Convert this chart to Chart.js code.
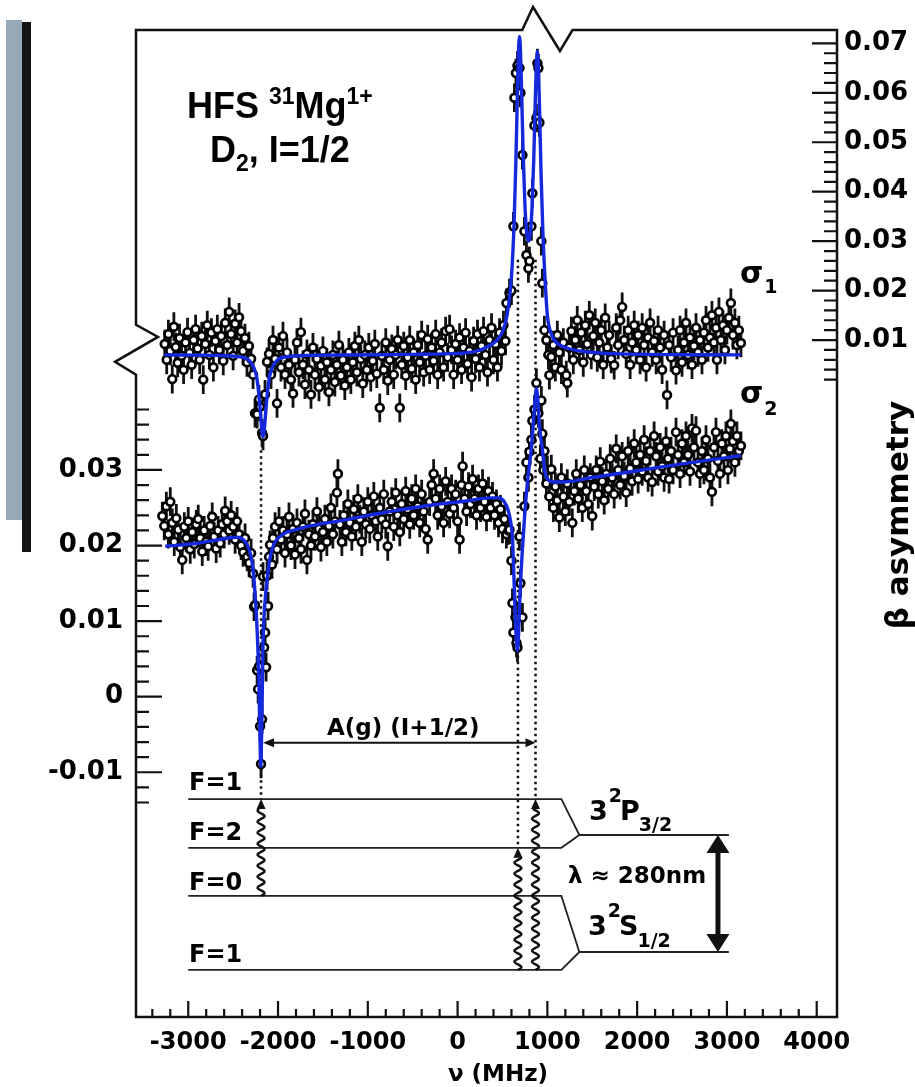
<!DOCTYPE html>
<html>
<head>
<meta charset="utf-8">
<title>HFS 31Mg1+</title>
<script src="https://cdn.jsdelivr.net/npm/chart.js@4.4.1/dist/chart.umd.min.js"></script>
<style>
  html, body { margin: 0; padding: 0; background: #fff; }
  #wrap { width: 915px; height: 1087px; }
</style>
</head>
<body>
<div id="wrap"><canvas id="hfsChart" width="915" height="1087"></canvas></div>
<script>
// sigma_1 scan, read against the right-hand axis
const s1Freq = [
  -3262,-3240,-3221,-3200,-3178,-3160,-3140,-3118,-3097,-3075,
  -3052,-3030,-3008,-2985,-2962,-2940,-2918,-2896,-2873,-2850,
  -2833,-2810,-2788,-2765,-2742,-2720,-2698,-2676,-2654,-2632,
  -2610,-2588,-2566,-2544,-2522,-2500,-2478,-2456,-2434,-2412,
  -2390,-2368,-2346,-2324,-2300,-2278,-2256,-2233,-2212,-2200,
  -2178,-2167,-2145,-2122,-2100,-2078,-2056,-2033,-2011,-1990,
  -1967,-1945,-1922,-1900,-1878,-1856,-1833,-1811,-1789,-1767,
  -1745,-1722,-1700,-1678,-1656,-1633,-1611,-1589,-1567,-1544,
  -1522,-1500,-1478,-1456,-1433,-1411,-1389,-1367,-1344,-1322,
  -1300,-1278,-1256,-1233,-1211,-1189,-1167,-1144,-1122,-1100,
  -1078,-1056,-1033,-1011,-989,-967,-944,-922,-900,-867,
  -844,-822,-800,-778,-756,-733,-711,-689,-667,-644,
  -622,-600,-578,-556,-533,-511,-489,-467,-444,-422,
  -400,-378,-356,-333,-311,-289,-267,-244,-222,-200,
  -178,-156,-133,-111,-89,-67,-44,-22,0,22,
  44,67,89,111,133,156,178,200,222,244,
  267,289,311,333,356,378,400,422,444,467,
  489,511,533,544,578,600,622,633,650,667,
  689,700,722,744,767,789,800,822,833,856,
  878,889,900,911,933,944,967,989,1011,1022,
  1044,1067,1089,1111,1133,1156,1178,1211,1222,1244,
  1267,1289,1311,1333,1356,1378,1400,1422,1444,1467,
  1489,1511,1533,1556,1578,1600,1622,1644,1667,1689,
  1711,1744,1767,1789,1811,1833,1856,1878,1900,1922,
  1944,1967,1989,2011,2033,2056,2078,2100,2122,2144,
  2167,2189,2211,2233,2256,2278,2300,2333,2356,2378,
  2400,2433,2456,2478,2500,2522,2544,2567,2589,2611,
  2633,2656,2678,2700,2722,2744,2767,2789,2811,2833,
  2856,2878,2889,2911,2933,2956,2978,3000,3022,3044,
  3067,3089,3111,3133,3156
];
const s1Asym = [
  0.0092,0.0060,0.0112,0.0078,0.0021,0.0127,0.0086,0.0054,0.0104,0.0068,
  0.0040,0.0095,0.0116,0.0074,0.0050,0.0100,0.0122,0.0083,0.0060,0.0108,
  0.0020,0.0092,0.0130,0.0070,0.0115,0.0045,0.0098,0.0122,0.0080,0.0108,
  0.0058,0.0135,0.0090,0.0157,0.0112,0.0068,0.0133,0.0095,0.0146,0.0118,
  0.0078,0.0104,0.0055,0.0088,0.0062,0.0030,-0.0048,-0.0050,-0.0020,-0.0035,
  -0.0088,-0.0094,-0.0010,0.0056,0.0072,0.0030,0.0100,0.0062,-0.0028,0.0085,
  0.0045,0.0108,0.0030,0.0075,0.0050,0.0020,-0.0008,0.0060,0.0095,0.0035,
  0.0116,0.0050,0.0010,0.0072,0.0040,-0.0010,0.0085,0.0030,0.0062,0.0005,
  0.0048,0.0078,0.0020,0.0055,-0.0005,0.0040,0.0070,0.0015,0.0050,0.0090,
  0.0028,0.0060,0.0008,0.0045,0.0075,0.0020,0.0055,0.0088,0.0035,0.0100,
  0.0062,0.0012,0.0070,0.0040,0.0085,0.0025,0.0058,0.0092,0.0032,-0.0037,
  0.0068,0.0040,0.0095,0.0018,0.0060,0.0082,0.0030,0.0070,0.0100,-0.0037,
  0.0050,0.0088,0.0028,0.0065,0.0100,0.0042,0.0075,0.0020,0.0090,0.0055,
  0.0110,0.0035,0.0068,0.0102,0.0040,0.0085,0.0058,0.0112,0.0030,0.0075,
  0.0095,0.0045,0.0118,0.0065,0.0122,0.0080,0.0030,0.0092,0.0060,0.0105,
  0.0040,0.0085,0.0115,0.0052,0.0078,0.0025,0.0098,0.0062,0.0112,0.0045,
  0.0088,0.0118,0.0070,0.0035,0.0100,0.0125,0.0060,0.0092,0.0045,0.0115,
  0.0078,0.0130,0.0098,0.0175,0.0195,0.0200,0.0330,0.0590,0.0640,0.0655,
  0.0650,0.0600,0.0474,0.0320,0.0272,0.0245,0.0260,0.0330,0.0397,0.0534,
  0.0549,0.0660,0.0650,0.0540,0.0300,0.0215,0.0120,0.0100,0.0070,0.0029,
  0.0066,0.0090,0.0045,0.0110,0.0075,0.0040,0.0095,0.0029,0.0013,0.0085,
  0.0118,0.0060,0.0100,0.0140,0.0080,0.0115,0.0055,0.0130,0.0092,0.0150,
  0.0070,0.0108,0.0135,0.0065,0.0095,0.0120,0.0050,0.0145,0.0085,0.0110,
  0.0062,0.0049,0.0125,0.0090,0.0140,0.0167,0.0100,0.0072,0.0120,0.0050,
  0.0095,0.0130,0.0080,0.0110,0.0060,0.0125,0.0090,0.0045,0.0105,0.0135,
  0.0075,0.0098,0.0060,0.0120,0.0085,0.0040,0.0110,-0.0011,0.0090,0.0065,
  0.0115,0.0039,0.0080,0.0120,0.0055,0.0095,0.0135,0.0070,0.0105,0.0050,
  0.0088,0.0125,0.0075,0.0100,0.0060,0.0115,0.0140,0.0085,0.0105,0.0150,
  0.0095,0.0125,0.0060,0.0157,0.0100,0.0130,0.0080,0.0120,0.0145,0.0175,
  0.0110,0.0135,0.0090,0.0120,0.0094
];
const s1Err = 0.0029;

// sigma_2 scan, read against the left-hand axis
const s2Freq = [
  -3289,-3267,-3244,-3222,-3200,-3178,-3156,-3133,-3111,-3089,
  -3067,-3044,-3022,-3000,-2978,-2956,-2933,-2911,-2889,-2867,
  -2844,-2822,-2800,-2778,-2756,-2733,-2711,-2689,-2667,-2644,
  -2622,-2600,-2589,-2567,-2544,-2522,-2500,-2478,-2456,-2433,
  -2411,-2389,-2367,-2344,-2322,-2300,-2278,-2267,-2256,-2233,
  -2222,-2211,-2200,-2189,-2178,-2167,-2155,-2144,-2133,-2122,
  -2111,-2100,-2089,-2067,-2056,-2033,-2011,-1989,-1967,-1944,
  -1922,-1900,-1878,-1856,-1833,-1811,-1789,-1767,-1744,-1722,
  -1700,-1678,-1656,-1633,-1611,-1589,-1567,-1544,-1522,-1500,
  -1478,-1456,-1433,-1411,-1389,-1367,-1344,-1333,-1311,-1289,
  -1267,-1244,-1222,-1200,-1178,-1156,-1133,-1111,-1089,-1067,
  -1044,-1022,-1000,-978,-956,-933,-911,-889,-867,-844,
  -822,-800,-778,-756,-733,-711,-689,-667,-644,-622,
  -600,-578,-556,-533,-511,-489,-467,-444,-422,-400,
  -378,-356,-333,-311,-289,-267,-244,-222,-200,-178,
  -156,-133,-111,-89,-67,-44,-22,0,22,44,
  56,78,100,122,144,167,189,211,233,256,
  278,300,322,344,367,389,411,433,456,478,
  500,522,544,567,578,600,611,622,644,656,
  667,678,689,700,722,744,767,789,800,822,
  833,856,878,900,922,933,944,956,967,989,
  1000,1022,1044,1067,1089,1111,1133,1156,1178,1200,
  1222,1244,1278,1300,1322,1344,1367,1389,1411,1433,
  1456,1478,1500,1522,1544,1567,1589,1611,1633,1656,
  1678,1700,1722,1744,1767,1789,1811,1833,1856,1878,
  1900,1922,1944,1967,1989,2011,2033,2056,2078,2100,
  2122,2144,2167,2189,2211,2233,2256,2278,2300,2322,
  2344,2356,2378,2400,2433,2456,2478,2500,2522,2544,
  2567,2589,2611,2633,2656,2678,2700,2722,2744,2767,
  2789,2811,2833,2856,2878,2900,2922,2944,2967,2989,
  3011,3033,3044,3067,3089,3111,3133,3156
];
const s2Asym = [
  0.0239,0.0226,0.0252,0.0215,0.0258,0.0230,0.0205,0.0236,0.0221,0.0198,
  0.0181,0.0225,0.0210,0.0232,0.0195,0.0218,0.0202,0.0228,0.0235,0.0210,
  0.0192,0.0220,0.0205,0.0199,0.0226,0.0238,0.0212,0.0196,0.0220,0.0203,
  0.0228,0.0215,0.0246,0.0232,0.0220,0.0240,0.0225,0.0208,0.0232,0.0215,
  0.0200,0.0191,0.0210,0.0185,0.0177,0.0190,0.0163,0.0119,0.0121,0.0035,
  0.0010,0.0040,-0.0039,-0.0089,-0.0030,0.0159,0.0065,0.0085,0.0039,0.0160,
  0.0120,0.0185,0.0201,0.0175,0.0210,0.0225,0.0195,0.0232,0.0208,0.0220,
  0.0190,0.0215,0.0238,0.0200,0.0222,0.0188,0.0230,0.0210,0.0195,0.0225,
  0.0242,0.0181,0.0215,0.0200,0.0228,0.0212,0.0245,0.0222,0.0198,0.0218,
  0.0235,0.0205,0.0226,0.0250,0.0215,0.0232,0.0270,0.0295,0.0228,0.0205,
  0.0240,0.0218,0.0255,0.0230,0.0212,0.0248,0.0225,0.0262,0.0235,0.0205,
  0.0245,0.0228,0.0258,0.0222,0.0240,0.0265,0.0232,0.0212,0.0250,0.0235,
  0.0268,0.0228,0.0199,0.0245,0.0258,0.0225,0.0270,0.0240,0.0218,0.0255,
  0.0235,0.0272,0.0248,0.0228,0.0262,0.0240,0.0275,0.0252,0.0230,0.0268,
  0.0245,0.0222,0.0208,0.0258,0.0280,0.0295,0.0262,0.0240,0.0275,0.0252,
  0.0230,0.0285,0.0258,0.0242,0.0275,0.0250,0.0268,0.0232,0.0208,0.0280,
  0.0305,0.0262,0.0245,0.0278,0.0255,0.0288,0.0262,0.0240,0.0275,0.0250,
  0.0282,0.0258,0.0238,0.0272,0.0250,0.0265,0.0240,0.0255,0.0230,0.0248,
  0.0222,0.0235,0.0215,0.0220,0.0221,0.0180,0.0124,0.0085,0.0105,0.0071,
  0.0065,0.0105,0.0212,0.0150,0.0105,0.0252,0.0310,0.0290,0.0324,0.0340,
  0.0365,0.0380,0.0415,0.0375,0.0315,0.0392,0.0348,0.0300,0.0325,0.0282,
  0.0300,0.0265,0.0301,0.0250,0.0278,0.0260,0.0237,0.0290,0.0265,0.0245,
  0.0282,0.0258,0.0230,0.0272,0.0295,0.0262,0.0280,0.0250,0.0300,0.0272,
  0.0255,0.0290,0.0239,0.0278,0.0300,0.0268,0.0311,0.0285,0.0260,0.0295,
  0.0275,0.0315,0.0290,0.0268,0.0328,0.0300,0.0280,0.0318,0.0292,0.0270,
  0.0325,0.0302,0.0285,0.0335,0.0310,0.0288,0.0320,0.0298,0.0340,0.0312,
  0.0290,0.0325,0.0284,0.0345,0.0318,0.0298,0.0330,0.0305,0.0290,0.0338,
  0.0315,0.0288,0.0325,0.0300,0.0350,0.0320,0.0295,0.0335,0.0310,0.0345,
  0.0320,0.0298,0.0355,0.0330,0.0352,0.0310,0.0295,0.0325,0.0300,0.0340,
  0.0315,0.0290,0.0271,0.0330,0.0350,0.0312,0.0295,0.0335,0.0318,0.0345,
  0.0300,0.0328,0.0361,0.0338,0.0310,0.0345,0.0325,0.0332
];
const s2Err = 0.0019;

// fitted curves (blue)
const fit1Freq = [
  -3267,-2700,-2420,-2317,-2267,-2237,-2212,-2197,-2182,-2167,
  -2152,-2137,-2122,-2097,-2067,-2017,-1917,-1667,-500,0,
  200,350,450,500,550,600,630,650,665,677,
  689,701,713,730,750,770,789,808,828,848,
  865,877,889,901,913,930,950,975,1000,1050,
  1100,1200,1400,1800,3156
];
const fit1Asym = [
  0.0070,0.0069,0.0066,0.0058,0.0043,0.0024,-0.0013,-0.0045,-0.0079,-0.0096,
  -0.0079,-0.0045,-0.0013,0.0024,0.0043,0.0058,0.0066,0.0069,0.0071,0.0073,
  0.0077,0.0088,0.0102,0.0117,0.0149,0.0228,0.0339,0.0467,0.0588,0.0674,
  0.0714,0.0682,0.0604,0.0479,0.0373,0.0317,0.0300,0.0313,0.0364,0.0464,
  0.0582,0.0656,0.0684,0.0648,0.0566,0.0435,0.0318,0.0220,0.0150,0.0110,
  0.0095,0.0085,0.0077,0.0072,0.0070
];
const fit2Freq = [
  -3256,-2900,-2600,-2456,-2344,-2300,-2278,-2255,-2233,-2215,
  -2200,-2192,-2183,-2175,-2167,-2145,-2122,-2090,-2055,-1944,
  -1800,-1678,-1300,-944,-600,-200,100,356,467,520,
  560,590,611,633,650,667,680,695,722,750,
  778,822,855,878,895,915,944,970,1000,1080,
  1167,1500,2000,2500,3156
];
const fit2Asym = [
  0.0199,0.0203,0.0209,0.0211,0.0201,0.0185,0.0168,0.0135,0.0088,0.0030,
  -0.0060,-0.0092,-0.0050,0.0010,0.0071,0.0125,0.0155,0.0183,0.0199,0.0215,
  0.0221,0.0225,0.0233,0.0241,0.0248,0.0255,0.0259,0.0263,0.0263,0.0258,
  0.0248,0.0232,0.0210,0.0140,0.0085,0.0061,0.0085,0.0135,0.0195,0.0245,
  0.0284,0.0330,0.0380,0.0408,0.0390,0.0355,0.0328,0.0300,0.0288,0.0284,
  0.0284,0.0290,0.0299,0.0308,0.0319
];

// tick labels
const freqTicks = [-3000, -2000, -1000, 0, 1000, 2000, 3000, 4000];
const leftTicks = [-0.01, 0, 0.01, 0.02, 0.03];
const rightTicks = [0.01, 0.02, 0.03, 0.04, 0.05, 0.06, 0.07];

// transition frequencies (MHz) marked by dotted guides and wavy arrows
const resonance = [-2189, 672, 868];

// level diagram heights, in left-axis units
const lvl = { f1u: -0.01355, f2: -0.0200, f0: -0.02636, f1l: -0.03615, p: -0.0183, s: -0.03378 };

const ink = '#111';
const blue = '#1428dc';
const FONT = '"DejaVu Sans", sans-serif';

const toPts = (fx, fy) => fx.map((f, i) => ({ x: f, y: fy[i] }));

function txt(ctx, s, x, y, size, family, align) {
  ctx.font = 'bold ' + size + 'px ' + (family || FONT);
  ctx.textAlign = align || 'left';
  ctx.fillText(s, x, y);
  return ctx.measureText(s).width;
}

function wavy(ctx, x, yFrom, yTo) {
  const amp = 3.5, len = 11, head = 9;
  const n = Math.floor(yFrom - yTo - head);
  ctx.beginPath();
  for (let i = 0; i <= n; i++) {
    const xx = x + amp * Math.sin(i / len * Math.PI * 2);
    if (i === 0) ctx.moveTo(xx, yFrom - i); else ctx.lineTo(xx, yFrom - i);
  }
  ctx.stroke();
  ctx.beginPath();
  ctx.moveTo(x, yTo);
  ctx.lineTo(x - 4.5, yTo + head + 1);
  ctx.lineTo(x + 4.5, yTo + head + 1);
  ctx.closePath();
  ctx.fill();
}

const decor = {
  id: 'decor',
  beforeDraw(chart) {
    const ctx = chart.ctx;
    ctx.save();
    ctx.fillStyle = '#fff';
    ctx.fillRect(0, 0, chart.width, chart.height);
    // slide edge bars
    ctx.fillStyle = '#95a9b9';
    ctx.fillRect(6, 20, 16, 500);
    ctx.fillStyle = '#151515';
    ctx.fillRect(22, 22, 9, 530);
    ctx.restore();
  },
  beforeDatasetsDraw(chart) {
    const { ctx, chartArea: a, scales } = chart;
    const X = v => scales.x.getPixelForValue(v);
    const YL = v => scales.y.getPixelForValue(v);
    ctx.save();
    ctx.beginPath();
    ctx.rect(a.left, a.top, a.right - a.left, a.bottom - a.top);
    ctx.clip();
    // dotted guides from the resonances down to the levels
    ctx.strokeStyle = ink;
    ctx.lineWidth = 2.5;
    ctx.setLineDash([2.5, 3.5]);
    ctx.beginPath();
    ctx.moveTo(X(resonance[0]), YL(0.0326)); ctx.lineTo(X(resonance[0]), YL(lvl.f1u));
    ctx.moveTo(X(resonance[1]), YL(0.0578)); ctx.lineTo(X(resonance[1]), YL(lvl.f2));
    ctx.moveTo(X(resonance[2]), YL(0.0578)); ctx.lineTo(X(resonance[2]), YL(lvl.f1u));
    ctx.stroke();
    ctx.setLineDash([]);
    // error bars
    ctx.lineWidth = 2.8;
    chart.data.datasets.forEach(ds => {
      if (!ds.err) return;
      const sc = scales[ds.yAxisID];
      ctx.beginPath();
      ds.data.forEach(p => {
        const x = X(p.x);
        ctx.moveTo(x, sc.getPixelForValue(p.y - ds.err));
        ctx.lineTo(x, sc.getPixelForValue(p.y + ds.err));
      });
      ctx.stroke();
    });
    ctx.restore();
  },
  afterDraw(chart) {
    const { ctx, chartArea: a, scales } = chart;
    const X = v => scales.x.getPixelForValue(v);
    const YL = v => scales.y.getPixelForValue(v);
    const YR = v => scales.y1.getPixelForValue(v);
    ctx.save();
    ctx.strokeStyle = ink;
    ctx.fillStyle = ink;
    ctx.lineWidth = 2.5;

    // frame, with breaks on the top and left edges
    ctx.beginPath();
    ctx.moveTo(a.left, a.top);
    ctx.lineTo(X(720), a.top);
    ctx.lineTo(X(840), a.top - 23);
    ctx.lineTo(X(1140), a.top + 21);
    ctx.lineTo(X(1280), a.top);
    ctx.lineTo(a.right, a.top);
    ctx.lineTo(a.right, a.bottom);
    ctx.lineTo(a.left, a.bottom);
    ctx.lineTo(a.left, YL(0.0426));
    ctx.lineTo(a.left - 21, YL(0.0443));
    ctx.lineTo(a.left + 22, YL(0.0476));
    ctx.lineTo(a.left, YL(0.0492));
    ctx.closePath();
    ctx.stroke();

    // inward ticks
    ctx.lineWidth = 2.2;
    ctx.beginPath();
    for (let k = -7; k <= 19; k++) {
      const y = YL(k * 0.002), len = k % 5 === 0 ? 26 : 13;
      ctx.moveTo(a.left, y); ctx.lineTo(a.left + len, y);
    }
    for (let k = 1; k <= 35; k++) {
      const y = YR(k * 0.002), len = k % 5 === 0 ? 25 : 13;
      ctx.moveTo(a.right, y); ctx.lineTo(a.right - len, y);
    }
    for (let k = -17; k <= 20; k++) {
      const x = X(k * 200), len = k % 5 === 0 ? 16 : 8;
      ctx.moveTo(x, a.bottom); ctx.lineTo(x, a.bottom - len);
    }
    ctx.stroke();

    // hyperfine levels
    const x0 = X(-3000), x1 = X(1156), x2 = X(1356), x3 = X(3022);
    ctx.strokeStyle = '#222';
    ctx.lineWidth = 1.8;
    ctx.beginPath();
    [['f1u', 'p'], ['f2', 'p'], ['f0', 's'], ['f1l', 's']].forEach(([l, j]) => {
      ctx.moveTo(x0, YL(lvl[l])); ctx.lineTo(x1, YL(lvl[l])); ctx.lineTo(x2, YL(lvl[j]));
    });
    ctx.moveTo(x2, YL(lvl.p)); ctx.lineTo(x3, YL(lvl.p));
    ctx.moveTo(x2, YL(lvl.s)); ctx.lineTo(x3, YL(lvl.s));
    ctx.stroke();

    // transitions
    ctx.strokeStyle = ink;
    ctx.lineWidth = 2.4;
    wavy(ctx, X(resonance[0]), YL(lvl.f0), YL(lvl.f1u));
    wavy(ctx, X(resonance[1]), YL(lvl.f1l), YL(lvl.f2));
    wavy(ctx, X(resonance[2]), YL(lvl.f1l), YL(lvl.f1u));

    // A(g)(I+1/2) span arrow
    const ya = YL(-0.0061), xa = X(resonance[0]) + 2, xb = X(resonance[2]);
    ctx.lineWidth = 2;
    ctx.beginPath(); ctx.moveTo(xa + 4, ya); ctx.lineTo(xb - 4, ya); ctx.stroke();
    ctx.beginPath(); ctx.moveTo(xa, ya); ctx.lineTo(xa + 11, ya - 4.5); ctx.lineTo(xa + 11, ya + 4.5); ctx.closePath(); ctx.fill();
    ctx.beginPath(); ctx.moveTo(xb, ya); ctx.lineTo(xb - 10, ya - 4.5); ctx.lineTo(xb - 10, ya + 4.5); ctx.closePath(); ctx.fill();

    // lambda arrow between the fine-structure levels
    const xl = X(2900), yp = YL(lvl.p), ys = YL(lvl.s);
    ctx.lineWidth = 5;
    ctx.beginPath(); ctx.moveTo(xl, yp + 12); ctx.lineTo(xl, ys - 12); ctx.stroke();
    ctx.beginPath(); ctx.moveTo(xl, yp); ctx.lineTo(xl - 11.5, yp + 18); ctx.lineTo(xl + 11.5, yp + 18); ctx.closePath(); ctx.fill();
    ctx.beginPath(); ctx.moveTo(xl, ys); ctx.lineTo(xl - 11.5, ys - 18); ctx.lineTo(xl + 11.5, ys - 18); ctx.closePath(); ctx.fill();

    // text
    ctx.fillStyle = '#000';
    ctx.textBaseline = 'alphabetic';
    const TF = '"Liberation Sans", Arial, sans-serif';
    let x = 187;
    x += txt(ctx, 'HFS ', x, 118, 36, TF);
    x += txt(ctx, '31', x, 104, 23, TF);
    x += txt(ctx, 'Mg', x, 118, 36, TF);
    txt(ctx, '1+', x, 104, 23, TF);
    x = 210;
    x += txt(ctx, 'D', x, 162, 36, TF);
    x += txt(ctx, '2', x, 171, 23, TF);
    txt(ctx, ', I=1/2', x, 162, 36, TF);

    x = 740;
    x += txt(ctx, 'σ', x, 283, 30);
    txt(ctx, '1', x + 1, 293, 19);
    x = 740;
    x += txt(ctx, 'σ', x, 403, 30);
    txt(ctx, '2', x + 1, 415, 19);

    txt(ctx, 'A(g) (I+1/2)', 327, 735, 23);

    txt(ctx, 'F=1', 189, 790, 24);
    txt(ctx, 'F=2', 189, 840, 24);
    txt(ctx, 'F=0', 189, 890, 24);
    txt(ctx, 'F=1', 189, 962, 24);

    x = 589;
    x += txt(ctx, '3', x, 820, 27);
    x += txt(ctx, '2', x + 1, 802, 19);
    x += txt(ctx, 'P', x - 1, 820, 27);
    txt(ctx, '3/2', x - 2, 831, 19);
    x = 588;
    x += txt(ctx, '3', x, 935, 27);
    x += txt(ctx, '2', x + 1, 917, 19);
    x += txt(ctx, 'S', x - 1, 935, 27);
    txt(ctx, '1/2', x - 2, 947, 19);
    txt(ctx, 'λ ≈ 280nm', 568, 883, 23);

    txt(ctx, 'ν (MHz)', 498, 1081, 23, null, 'center');

    ctx.translate(908, 515);
    ctx.rotate(-Math.PI / 2);
    txt(ctx, 'β asymmetry', 0, 0, 31, null, 'center');
    ctx.restore();
  }
};

Chart.defaults.font.family = FONT;
Chart.defaults.color = '#000';

const tickFont = size => ({ size: size, weight: 'bold', family: FONT });

new Chart(document.getElementById('hfsChart').getContext('2d'), {
  type: 'scatter',
  data: {
    datasets: [
      { type: 'line', label: 'fit σ1', data: toPts(fit1Freq, fit1Asym), yAxisID: 'y1',
        borderColor: blue, borderWidth: 3.4, pointRadius: 0, fill: false, cubicInterpolationMode: 'monotone' },
      { type: 'line', label: 'fit σ2', data: toPts(fit2Freq, fit2Asym), yAxisID: 'y',
        borderColor: blue, borderWidth: 3.4, pointRadius: 0, fill: false, cubicInterpolationMode: 'monotone' },
      { label: 'σ1', data: toPts(s1Freq, s1Asym), yAxisID: 'y1', err: s1Err,
        pointRadius: 3.9, pointBorderWidth: 2.7, pointBorderColor: '#000', pointBackgroundColor: '#fff' },
      { label: 'σ2', data: toPts(s2Freq, s2Asym), yAxisID: 'y', err: s2Err,
        pointRadius: 3.9, pointBorderWidth: 2.7, pointBorderColor: '#000', pointBackgroundColor: '#fff' }
    ]
  },
  options: {
    responsive: false,
    animation: false,
    events: [],
    layout: { padding: { top: 30, left: 0, right: 0, bottom: 0 } },
    plugins: { legend: { display: false }, tooltip: { enabled: false } },
    scales: {
      x: {
        type: 'linear', position: 'bottom', min: -3582, max: 4226,
        grid: { display: false, drawTicks: false }, border: { display: false },
        afterBuildTicks: s => { s.ticks = freqTicks.map(v => ({ value: v })); },
        afterFit: s => { s.height = 70; },
        ticks: { autoSkip: false, maxRotation: 0, padding: 11, font: tickFont(24), callback: v => String(v) }
      },
      y: {
        type: 'linear', position: 'left', min: -0.04238, max: 0.08821,
        grid: { display: false, drawTicks: false }, border: { display: false },
        afterBuildTicks: s => { s.ticks = leftTicks.map(v => ({ value: v })); },
        afterFit: s => { s.width = 136; },
        ticks: { autoSkip: false, padding: 13, font: tickFont(26), callback: v => (Math.abs(v) < 1e-9 ? '0' : v.toFixed(2)) }
      },
      y1: {
        type: 'linear', position: 'right', min: -0.1269, max: 0.0727,
        grid: { display: false, drawTicks: false }, border: { display: false },
        afterBuildTicks: s => { s.ticks = rightTicks.map(v => ({ value: v })); },
        afterFit: s => { s.width = 78; },
        ticks: { autoSkip: false, padding: 7, font: tickFont(26), callback: v => v.toFixed(2) }
      }
    }
  },
  plugins: [decor]
});
</script>
</body>
</html>
